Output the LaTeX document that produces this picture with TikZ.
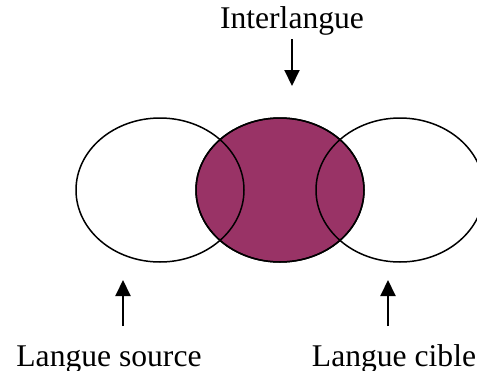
\documentclass[tikz,border=0pt]{standalone}
\usepackage{fontspec}
\setmainfont{Liberation Serif}
\usetikzlibrary{shapes.geometric,arrows.meta}
\definecolor{plum}{RGB}{153,51,102}
\begin{document}
\begin{tikzpicture}[
        x=0.5pt, y=-0.5pt,
        lang/.style={ellipse, draw=black, line width=0.75pt, minimum width=84pt, minimum height=72pt, inner sep=0pt},
        label/.style={anchor=base, inner sep=0pt, font=\fontsize{15.8}{18}\selectfont},
        pointer/.style={line width=1pt, -{Triangle[length=8pt, width=7.5pt]}}
    ]
    \useasboundingbox (0,0) rectangle (477,370);

    % Interlangue (filled, underneath)
    \node[lang, fill=plum] (inter) at (280,190) {};

    % Source and target languages
    \node[lang] (src) at (160,190) {};
    \node[lang] (cib) at (400,190) {};
    \node[lang] at (280,190) {};

    % Labels
    \node[label] (interlab) at (292,28) {Interlangue};
    \node[label] (srclab) at (109,366) {Langue source};
    \node[label] (ciblab) at (394,366) {Langue cible};

    % Pointers
    \coordinate (p1a) at (292,39);
    \coordinate (p1b) at (292,86);
    \coordinate (p2a) at (123,326);
    \coordinate (p2b) at (123,280);
    \coordinate (p3a) at (388,326);
    \coordinate (p3b) at (388,280);
    \draw[pointer] (p1a) -- (p1b);
    \draw[pointer] (p2a) -- (p2b);
    \draw[pointer] (p3a) -- (p3b);
\end{tikzpicture}
\end{document}
